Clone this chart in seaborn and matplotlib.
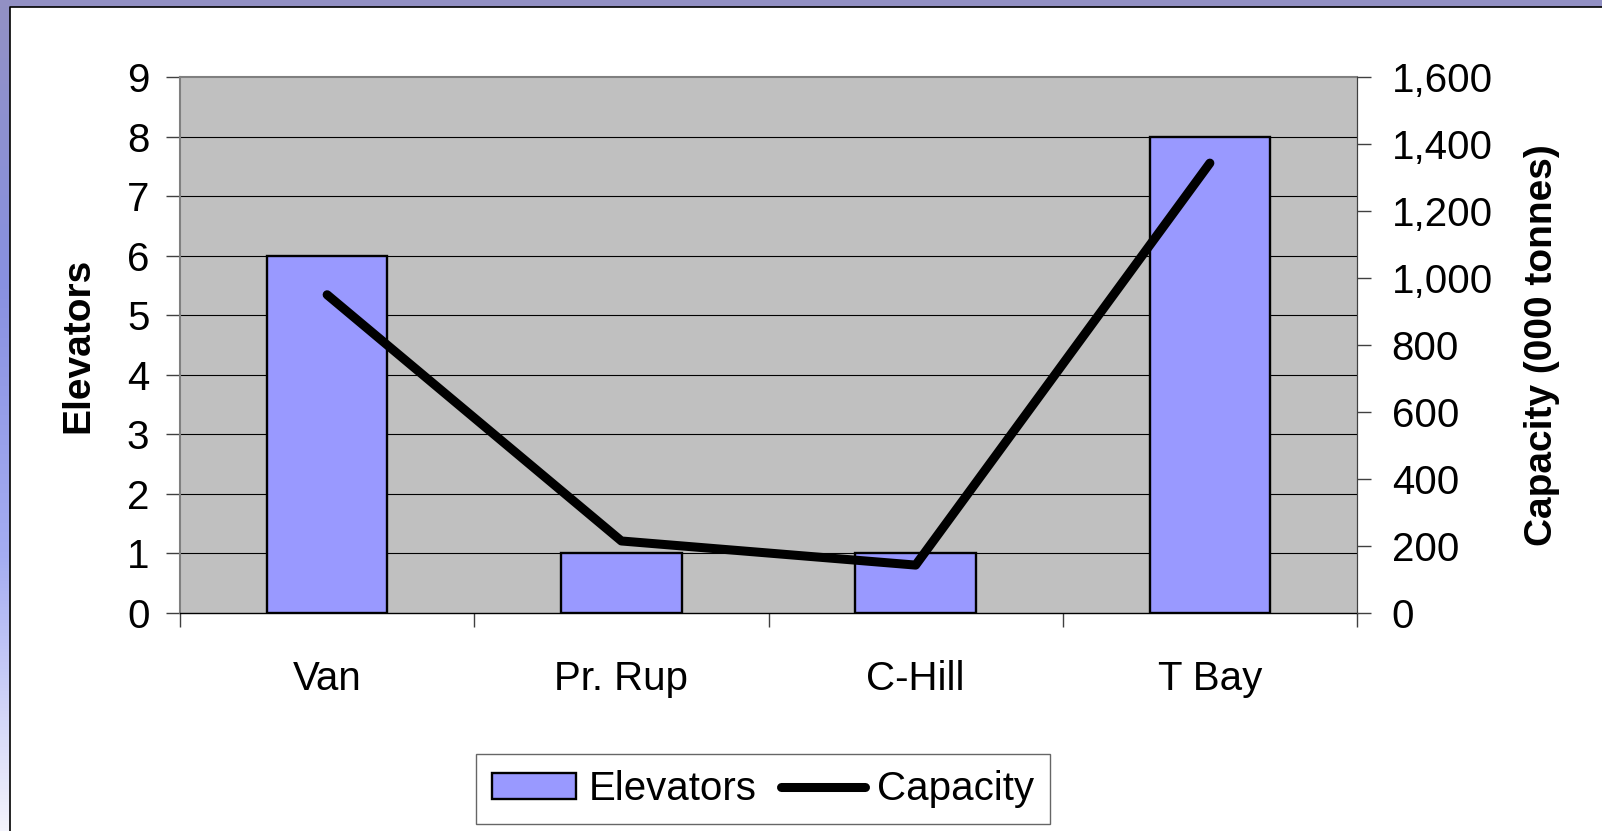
import numpy as np
import pandas as pd
import seaborn as sns
import matplotlib.pyplot as plt
from matplotlib.patches import Patch
from matplotlib.lines import Line2D
from matplotlib.colors import LinearSegmentedColormap

# data
ports = ["Van", "Pr. Rup", "C-Hill", "T Bay"]
elevators = [6, 1, 1, 8]
capacity = [950, 215, 143, 1343]

df = pd.DataFrame({"Port": ports, "Elevators": elevators, "Capacity": capacity})

sns.set_style("white")
plt.rcParams["font.family"] = ["Liberation Sans", "DejaVu Sans"]
plt.rcParams["text.color"] = "black"
plt.rcParams["axes.labelcolor"] = "black"
plt.rcParams["xtick.color"] = "black"
plt.rcParams["ytick.color"] = "black"

W, H = 1602, 831
fig = plt.figure(figsize=(W / 100, H / 100), dpi=100)

# slide-like frame: purple band on top, gradient band on the left
bg = fig.add_axes([0, 0, 1, 1], zorder=-10)
bg.set_xlim(0, W)
bg.set_ylim(H, 0)
bg.axis("off")
cmap = LinearSegmentedColormap.from_list(
    "frame", ["#9290c4", "#8890e0", "#a4acf2", "#f4f4fc"])
grad = np.linspace(0, 1, 256).reshape(-1, 1)
bg.imshow(grad, cmap=cmap, extent=(0, 10, H, 0), aspect="auto")
bg.fill_between([0, W], 0, 7, color="#9290c4", lw=0)
bg.plot([10, 10, W], [H, 7, 7], color="black", lw=1.2)

ax = fig.add_axes([180 / W, 1 - 613 / H, (1357 - 180) / W, (613 - 77) / H])
ax.set_facecolor("#c0c0c0")

sns.barplot(data=df, x="Port", y="Elevators", color="#9999ff", width=0.41,
            edgecolor="black", linewidth=1.7, saturation=1, ax=ax, zorder=3)
ax.set_ylim(0, 9)
ax.set_xlim(-0.5, 3.5)
ax.set_yticks(range(0, 10))
for yv in range(1, 9):
    ax.axhline(yv, color="black", lw=0.8, zorder=1)
for s in ["top", "left"]:
    ax.spines[s].set_color("#808080")
    ax.spines[s].set_linewidth(1.5)
ax.spines["right"].set_color("#404040")
ax.spines["bottom"].set_color("black")
ax.spines["bottom"].set_linewidth(1.0)

ax.set_xlabel("")
ax.set_ylabel("Elevators", fontsize=28, fontweight="bold", labelpad=22)
ax.tick_params(axis="y", left=True, length=10, width=1, color="#404040",
               labelsize=29, pad=12, labelcolor="black")
ax.tick_params(axis="x", which="major", length=0, labelsize=29, pad=34,
               labelcolor="black")
ax.set_xticks([-0.5, 0.5, 1.5, 2.5, 3.5], minor=True)
ax.tick_params(axis="x", which="minor", bottom=True, length=10, width=1,
               color="#404040")

ax2 = ax.twinx()
sns.lineplot(data=df, x="Port", y="Capacity", color="black", lw=6.5,
             sort=False, ax=ax2, zorder=5, solid_capstyle="round")
ax2.set_ylim(0, 1600)
ax2.set_yticks(range(0, 1601, 200))
ax2.set_yticklabels([f"{v:,}" for v in range(0, 1601, 200)])
ax2.tick_params(axis="y", right=True, length=10, width=1, color="#404040",
                labelsize=29, pad=15, labelcolor="black")
ax2.set_ylabel("Capacity (000 tonnes)", fontsize=28, fontweight="bold",
               labelpad=22)
for s in ax2.spines.values():
    s.set_visible(False)
ax2.spines["right"].set_visible(True)
ax2.spines["right"].set_color("#404040")

handles = [Patch(facecolor="#9999ff", edgecolor="black", lw=1.7),
           Line2D([0], [0], color="black", lw=6.5, solid_capstyle="round")]
leg = fig.legend(handles, ["Elevators", "Capacity"], loc="center",
                 bbox_to_anchor=(763 / W, 1 - 789 / H), ncol=2, fontsize=29,
                 frameon=True, fancybox=False, handlelength=2.1,
                 handleheight=0.6, handletextpad=0.3, columnspacing=0.6,
                 borderpad=0.4)
leg.get_frame().set_edgecolor("#404040")
leg.get_frame().set_linewidth(1.0)

fig.savefig("out.png", dpi=100)
